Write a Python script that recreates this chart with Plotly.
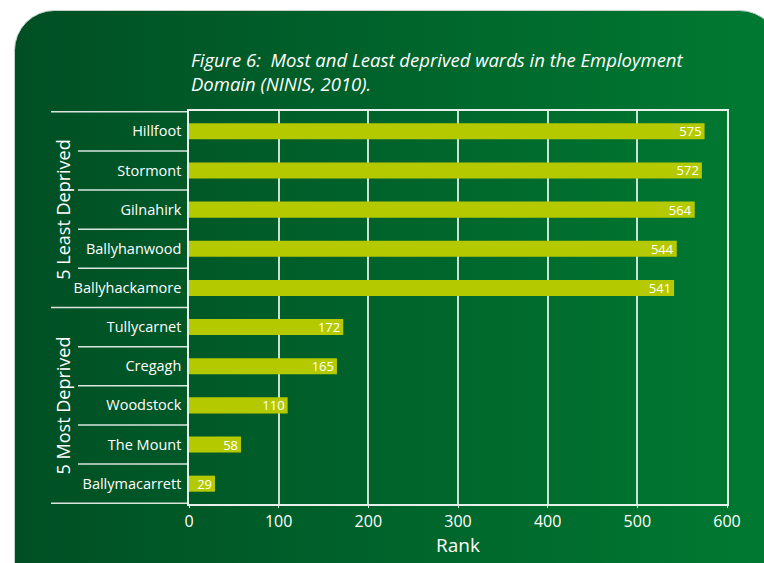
import base64
import plotly.graph_objects as go

# Ward ranks in the Employment Domain (NINIS, 2010)
wards = ["Hillfoot", "Stormont", "Gilnahirk", "Ballyhanwood", "Ballyhackamore",
         "Tullycarnet", "Cregagh", "Woodstock", "The Mount", "Ballymacarrett"]
ranks = [575, 572, 564, 544, 541, 172, 165, 110, 58, 29]
groups = ["5 Least Deprived", "5 Most Deprived"]
group_size = 5
x_ticks = [0, 100, 200, 300, 400, 500, 600]

W, H = 764, 563
ML, MR, MT, MB = 189, 37, 111, 59
PW, PH = W - ML - MR, H - MT - MB

FONT = "Open Sans"
BAR = "#B5C900"
TEAL = "#00A093"


def px_x(p):
    return (p - ML) / PW


def px_y(p):
    return (H - MB - p) / PH


# green gradient panel with rounded top corners
panel_w, panel_h = 766, 600
svg = f"""<svg xmlns='http://www.w3.org/2000/svg' width='{panel_w}' height='{panel_h}' viewBox='0 0 {panel_w} {panel_h}'>
<defs><linearGradient id='g' x1='0' y1='0' x2='1' y2='0'>
<stop offset='0' stop-color='#004F24'/><stop offset='0.5' stop-color='#00642B'/><stop offset='1' stop-color='#007A32'/>
</linearGradient></defs>
<rect x='0.5' y='0.5' width='{panel_w - 1}' height='{panel_h - 1}' rx='40' ry='40' fill='url(#g)' stroke='#C8D0CA' stroke-width='1'/>
</svg>"""
svg_uri = "data:image/svg+xml;base64," + base64.b64encode(svg.encode()).decode()

fig = go.Figure()
fig.add_trace(go.Bar(
    y=wards, x=ranks, orientation="h",
    marker=dict(color=BAR, line=dict(width=0)),
    width=0.41,
    text=[str(v) for v in ranks],
    textposition="inside", insidetextanchor="end", textangle=0,
    textfont=dict(color="white", size=13, family=FONT),
    constraintext="none",
    hoverinfo="skip",
))

shapes = []
# row separators on the label column
n = len(wards)
for k in range(n + 1):
    long_line = (k % group_size == 0)
    x0 = px_x(51) if long_line else px_x(78)
    shapes.append(dict(type="line", xref="paper", yref="y",
                       x0=x0, x1=0, y0=k - 0.5, y1=k - 0.5,
                       line=dict(color="rgba(255,255,255,0.85)", width=1.5),
                       layer="above"))

annotations = [
    dict(text="<i>Figure 6:  Most and Least deprived wards in the Employment<br>Domain (NINIS, 2010).</i>",
         xref="paper", yref="paper", x=0, y=px_y(71), xanchor="left", yanchor="middle",
         align="left", showarrow=False,
         font=dict(color="white", size=18.5, family=FONT)),
]
for gi, g in enumerate(groups):
    center = gi * group_size + (group_size - 1) / 2
    annotations.append(dict(text=g, xref="paper", yref="y", x=px_x(63), y=center,
                            xanchor="center", yanchor="middle", textangle=-90,
                            showarrow=False,
                            font=dict(color="white", size=18, family=FONT)))

fig.update_layout(
    width=W, height=H,
    margin=dict(l=ML, r=MR, t=MT, b=MB, pad=0),
    paper_bgcolor="white",
    plot_bgcolor=TEAL,
    showlegend=False,
    bargap=0.59,
    font=dict(family=FONT, color="white"),
    shapes=shapes,
    annotations=annotations,
    images=[dict(source=svg_uri, xref="paper", yref="paper",
                 x=px_x(14), y=px_y(10), sizex=panel_w / PW, sizey=panel_h / PH,
                 xanchor="left", yanchor="top", sizing="stretch", layer="below")],
    xaxis=dict(range=[0, 600], tickvals=x_ticks, showgrid=True,
               gridcolor="rgba(255,255,255,0.8)", gridwidth=1.5,
               showline=True, mirror=True, linecolor="rgba(255,255,255,0.9)", linewidth=1.5,
               zeroline=False, ticks="outside", ticklen=2, tickcolor="rgba(255,255,255,0.9)",
               tickfont=dict(size=16, color="white", family=FONT),
               title=dict(text="Rank", font=dict(size=19, color="white", family=FONT), standoff=6),
               fixedrange=True),
    yaxis=dict(categoryorder="array", categoryarray=wards, autorange="reversed",
               showgrid=False, showline=True, mirror=True,
               linecolor="rgba(255,255,255,0.9)", linewidth=1.5,
               ticks="", ticklabelstandoff=3,
               tickfont=dict(size=14.5, color="white", family=FONT),
               fixedrange=True),
)

fig.write_html("out.html")
